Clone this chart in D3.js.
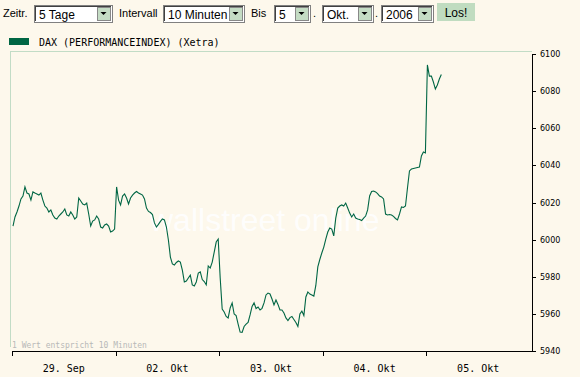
<!doctype html>
<html lang="de">
<head>
<meta charset="utf-8">
<title>DAX (PERFORMANCEINDEX) (Xetra) - 5 Tage</title>
<script src="https://cdnjs.cloudflare.com/ajax/libs/d3/7.8.5/d3.min.js"></script>
<style>
  body { margin: 0; background: #fdf8ec; }
  svg { display: block; }
  .ui { font-family: "Liberation Sans", Arial, sans-serif; font-size: 11px; fill: #000; }
  .mono { font-family: "DejaVu Sans Mono", monospace; }
</style>
</head>
<body>
<svg width="580" height="377" id="svg"></svg>

<script>
// chart data: 10-minute values, 52 per trading day
var days = ['29. Sep', '02. Okt', '03. Okt', '04. Okt', '05. Okt'];
var yTicks = [5940, 5960, 5980, 6000, 6020, 6040, 6060, 6080, 6100];

var sep29 = [6007.3, 6012.2, 6014.9, 6018.1, 6021.9, 6023.5, 6028.4, 6025.1, 6024.6, 6021.3,
             6025.7, 6025.1, 6024.6, 6024.0, 6025.1, 6021.3, 6018.1, 6017.0, 6014.9, 6016.0,
             6013.3, 6011.6, 6011.1, 6012.7, 6013.8, 6014.9, 6016.5, 6013.3, 6012.7, 6014.9,
             6013.3, 6011.1, 6012.2, 6022.4, 6020.8, 6019.2, 6018.7, 6019.7, 6013.8, 6007.3,
             6010.0, 6010.6, 6012.7, 6011.1, 6006.8, 6006.3, 6007.9, 6008.4, 6007.3, 6004.1,
             6004.6, 6005.7];
var okt02 = [6028.4, 6021.3, 6018.7, 6023.5, 6024.6, 6022.4, 6019.2, 6022.4, 6024.0, 6025.1,
             6025.9, 6025.1, 6024.6, 6024.0, 6021.9, 6017.0, 6015.2, 6014.6, 6013.5, 6009.0,
             6006.8, 6008.2, 6009.8, 6011.1, 6010.6, 6006.8, 5999.8, 5990.6, 5986.9, 5986.3,
             5987.7, 5988.5, 5987.9, 5983.6, 5977.2, 5977.7, 5979.3, 5980.9, 5975.6, 5975.0,
             5977.2, 5982.0, 5982.6, 5978.5, 5977.4, 5975.6, 5985.8, 5984.7, 5987.9, 5993.3,
             5998.7, 6000.3];
var okt03 = [5979.3, 5962.6, 5961.0, 5958.6, 5957.8, 5963.2, 5965.9, 5959.9, 5959.1, 5954.5,
             5950.2, 5950.0, 5953.2, 5954.5, 5955.4, 5959.4, 5964.0, 5965.9, 5962.9, 5963.7,
             5962.1, 5963.0, 5965.9, 5970.2, 5971.2, 5970.7, 5968.0, 5964.8, 5967.5, 5965.1,
             5962.1, 5962.1, 5960.5, 5957.8, 5956.4, 5958.0, 5958.6, 5957.0, 5955.4, 5953.2,
             5959.9, 5961.5, 5959.1, 5969.1, 5971.8, 5970.7, 5970.2, 5969.6, 5975.3, 5985.3,
             5989.3, 5992.8];
var okt04 = [5996.0, 6000.3, 6004.1, 6006.3, 6005.7, 6002.0, 6011.6, 6017.0, 6018.1, 6018.7,
             6018.1, 6019.7, 6017.0, 6014.3, 6012.2, 6013.8, 6011.6, 6011.1, 6010.8, 6010.3,
             6011.6, 6012.7, 6016.0, 6023.5, 6025.9, 6026.2, 6025.7, 6024.8, 6023.5, 6023.0,
             6021.9, 6013.8, 6013.3, 6013.5, 6013.3, 6012.5, 6011.4, 6010.6, 6013.8, 6017.6,
             6017.3, 6018.1, 6027.8, 6037.0, 6038.0, 6038.3, 6038.6, 6038.9, 6039.1, 6045.1,
             6047.2, 6046.7];
var okt05 = [6094.1, 6088.1, 6088.1, 6084.9, 6081.1, 6083.3, 6086.5, 6089.0];

var perDay = 52;

var svg = d3.select('#svg');

/* toolbar with the period selection */
var bar = svg.append('g');
function label(txt, x) {
  bar.append('text').attr('class', 'ui').attr('x', x).attr('y', 17).text(txt);
}
function dropdown(txt, x, w) {
  var g = bar.append('g').attr('transform', 'translate(' + x + ',5)');
  g.append('rect').attr('width', w).attr('height', 17).attr('fill', '#fff')
    .attr('stroke', '#808080').attr('shape-rendering', 'crispEdges');
  g.append('path').attr('d', 'M1.5,16V1.5H' + (w - 1))
    .attr('fill', 'none').attr('stroke', '#404040').attr('shape-rendering', 'crispEdges');
  g.append('rect').attr('x', w - 15).attr('y', 2).attr('width', 13).attr('height', 13)
    .attr('fill', '#c4dcc4').attr('stroke', '#888').attr('shape-rendering', 'crispEdges');
  g.append('path').attr('d', 'M' + (w - 11.5) + ',7h6l-3,3z').attr('fill', '#000');
  g.append('text').attr('class', 'ui').attr('x', 5).attr('y', 13.5)
    .style('font-size', '12px').text(txt);
}
label('Zeitr.', 3);
dropdown('5 Tage', 34, 78);
label('Intervall', 119);
dropdown('10 Minuten', 163, 81);
label('Bis', 251);
dropdown('5', 274, 36);
label('.', 313);
dropdown('Okt.', 322, 51);
label('.', 375);
dropdown('2006', 381, 52);
bar.append('rect').attr('x', 437).attr('y', 3).attr('width', 38).attr('height', 18)
  .attr('fill', '#c0dcc0');
bar.append('text').attr('class', 'ui').attr('x', 456).attr('y', 16.5)
  .attr('text-anchor', 'middle').style('font-size', '12px').text('Los!');

/* legend */
svg.append('rect').attr('x', 9).attr('y', 38).attr('width', 20).attr('height', 7)
  .attr('fill', '#006644');
svg.append('text').attr('class', 'mono').attr('x', 39).attr('y', 46)
  .style('font-size', '10px').attr('fill', '#000')
  .text('DAX (PERFORMANCEINDEX) (Xetra)');

/* scales */
var x = d3.scaleLinear().domain([0, days.length * perDay]).range([12, 530]);
var y = d3.scaleLinear().domain([5940, 6100]).range([351, 54]);
var axisX = 532;

/* plot frame (light green) */
svg.append('path')
  .attr('d', 'M10.5,347V51.5H' + axisX)
  .attr('fill', 'none').attr('stroke', '#c2dcc6').attr('shape-rendering', 'crispEdges');

/* watermark */
svg.append('text').attr('x', 150).attr('y', 231)
  .style('font-family', '"Liberation Sans", Arial, sans-serif').style('font-size', '32px')
  .attr('fill', '#ffffff').attr('opacity', 0.85)
  .text('wallstreet online');

svg.append('text').attr('class', 'mono').attr('x', 12).attr('y', 348)
  .style('font-size', '8px').attr('fill', '#b8b8b8')
  .text('1 Wert entspricht 10 Minuten');

/* right value axis */
var gy = svg.append('g').attr('transform', 'translate(' + axisX + ',0)')
  .call(d3.axisRight(y).tickValues(yTicks).tickFormat(d3.format('d'))
    .tickSize(4).tickSizeOuter(0).tickPadding(4));
gy.selectAll('text').style('font-family', '"DejaVu Sans", Verdana, sans-serif')
  .style('font-size', '8px').attr('fill', '#000');
gy.selectAll('line, path').attr('stroke', '#000').attr('shape-rendering', 'crispEdges');

/* bottom day axis */
var dayStarts = days.map(function (d, i) { return i * perDay; });
svg.append('line')
  .attr('x1', x.range()[0]).attr('x2', axisX)
  .attr('y1', y.range()[0] + 0.5).attr('y2', y.range()[0] + 0.5)
  .attr('stroke', '#000');
svg.selectAll('.dtick').data(dayStarts).enter().append('line')
  .attr('class', 'dtick')
  .attr('x1', function (d) { return Math.round(x(d)) + 0.5; })
  .attr('x2', function (d) { return Math.round(x(d)) + 0.5; })
  .attr('y1', y.range()[0]).attr('y2', y.range()[0] + 5)
  .attr('stroke', '#000');
svg.selectAll('.dlabel').data(days).enter().append('text')
  .attr('class', 'mono dlabel')
  .attr('x', function (d, i) { return x(i * perDay + perDay / 2); })
  .attr('y', 372).attr('text-anchor', 'middle')
  .style('font-size', '10px').attr('fill', '#000')
  .text(function (d) { return d; });

/* price line */
var series = [sep29, okt02, okt03, okt04, okt05];
var points = [];
series.forEach(function (vals, d) {
  vals.forEach(function (v, i) { points.push([d * perDay + i + 0.5, v]); });
});
var line = d3.line()
  .x(function (p) { return x(p[0]); })
  .y(function (p) { return y(p[1]); });
svg.append('path').datum(points)
  .attr('d', line)
  .attr('fill', 'none').attr('stroke', '#006644').attr('stroke-width', 1.1);
</script>
</body>
</html>
